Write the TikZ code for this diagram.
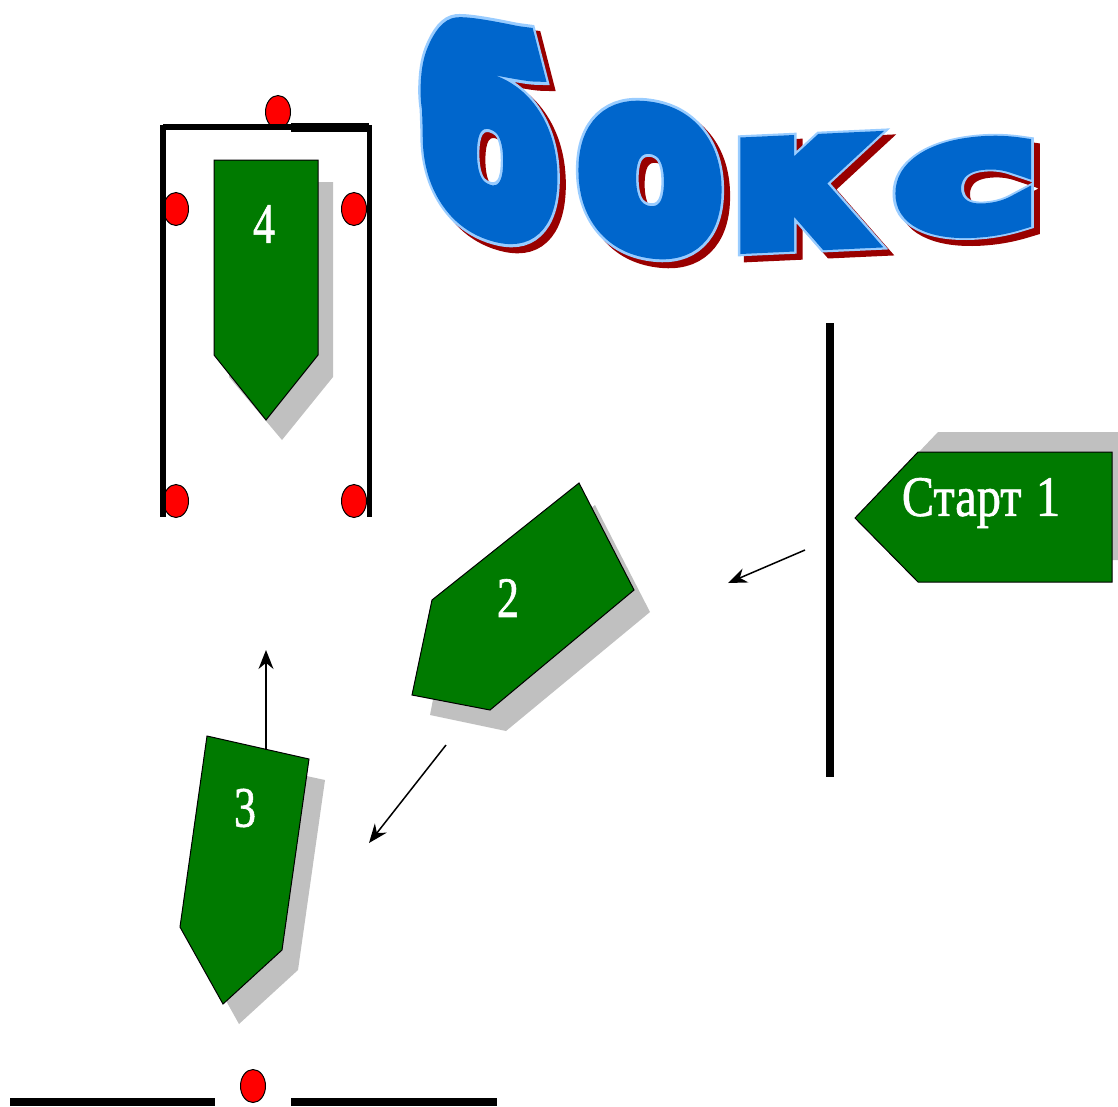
\documentclass[tikz,border=0pt]{standalone}
\usepackage{fontspec}
\setmainfont{Liberation Serif}
\newfontfamily\tcore{DejaVu Sans Bold}[FakeBold=10]
\newfontfamily\touter{DejaVu Sans Bold}[FakeBold=12.5]
\newfontfamily\numfont{Liberation Serif}[FakeBold=1.2]
\usetikzlibrary{arrows.meta,shapes.geometric}
\definecolor{boat}{HTML}{007A00}
\definecolor{shade}{HTML}{C0C0C0}
\definecolor{wablue}{HTML}{0066CC}
\definecolor{walight}{HTML}{99CCFF}
\definecolor{wared}{HTML}{990000}
\tikzset{
  hull/.style={fill=boat,draw=black,line width=1pt,line join=miter},
  hullshade/.style={fill=shade},
  wall/.style={draw=black,line cap=butt},
  post/.style={ellipse,draw=black,fill=red,line width=1pt,minimum width=25pt,minimum height=33pt,inner sep=0pt},
  num/.style={text=white,font=\numfont\fontsize{44}{44}\selectfont,yscale=1.3,transform shape,inner sep=0pt},
  move/.style={draw=black,line width=1.5pt,-{Stealth[length=19pt,width=15pt]}}
}
\newcommand{\waletter}[7]{% char,x,y,xscale,yscale,slant,name
  \node[text=wared,font=\touter\fontsize{150}{150}\selectfont,inner sep=0pt,transform shape,xscale=#4,yscale=#5,yslant=#6] at (#2+6,#3+6) {#1};
  \node[text=walight,font=\touter\fontsize{150}{150}\selectfont,inner sep=0pt,transform shape,xscale=#4,yscale=#5,yslant=#6] at (#2,#3) {#1};
  \node[text=wablue,font=\tcore\fontsize{150}{150}\selectfont,inner sep=0pt,transform shape,xscale=#4,yscale=#5,yslant=#6] (#7) at (#2,#3) {#1};
}
\begin{document}
\begin{tikzpicture}[x=1pt,y=-1pt]
\useasboundingbox (0,0) rectangle (1118,1106);
% title
\waletter{б}{489}{128}{1.28}{1.65}{-0.24}{tb}
\waletter{о}{650}{180}{1.36}{1.55}{-0.12}{to}
\waletter{к}{800}{193}{1.3}{1.2}{0.05}{tk}
\waletter{с}{966}{188}{1.55}{1.0}{0.12}{tc}
% shadows
\fill[hullshade] (938,432) -- (1118,432) -- (1118,560) -- (1100,560) -- (875,498) -- cycle;
\fill[hullshade] (229,182) -- (333,182) -- (333,377) -- (282,440) -- (229,377) -- cycle;
\fill[hullshade] (595,505) -- (650,612) -- (506,731) -- (430,715) -- (448,622) -- cycle;
\fill[hullshade] (223,758) -- (325,780) -- (298,970) -- (239,1024) -- (196,947) -- cycle;
% hulls
\draw[hull] (918,452) -- (1112,452) -- (1112,582) -- (918,582) -- (855,518) -- cycle;
\draw[hull] (214,160) -- (318,160) -- (318,355) -- (266,420) -- (214,355) -- cycle;
\draw[hull] (579,483) -- (634,590) -- (490,710) -- (412,695) -- (432,600) -- cycle;
\draw[hull] (207,736) -- (309,759) -- (282,950) -- (223,1004) -- (180,927) -- cycle;
% labels
\node[num,xscale=1.1] (n1) at (981,503) {Старт\hspace{.3em}1};
\node[num] (n2) at (508,598) {2};
\node[num] (n3) at (245,808) {3};
\node[num] (n4) at (264,224) {4};
% posts
\node[post] (pt) at (278,112) {};
\node[post] (pl1) at (176,209) {};
\node[post] (pr1) at (354,209) {};
\node[post] (pl2) at (176,501) {};
\node[post] (pr2) at (354,501) {};
\node[post] (pb) at (253,1086) {};
% walls
\draw[wall,line width=6pt] (163,125) -- (163,517);
\draw[wall,line width=5pt] (369,125) -- (369,517);
\draw[wall,line width=6pt] (163,127) -- (291,127);
\draw[wall,line width=9pt] (291,127) -- (369,127);
\draw[wall,line width=8pt] (830,323) -- (830,777);
\draw[wall,line width=8pt] (10,1102) -- (215,1102);
\draw[wall,line width=8pt] (291,1102) -- (497,1102);
% arrows
\coordinate (a1s) at (805,550); \coordinate (a1e) at (728,583);
\coordinate (a2s) at (446,745); \coordinate (a2e) at (369,843);
\coordinate (a3s) at (266,750); \coordinate (a3e) at (266,650);
\draw[move] (a1s) -- (a1e);
\draw[move] (a2s) -- (a2e);
\draw[move] (a3s) -- (a3e);
\end{tikzpicture}
\end{document}
